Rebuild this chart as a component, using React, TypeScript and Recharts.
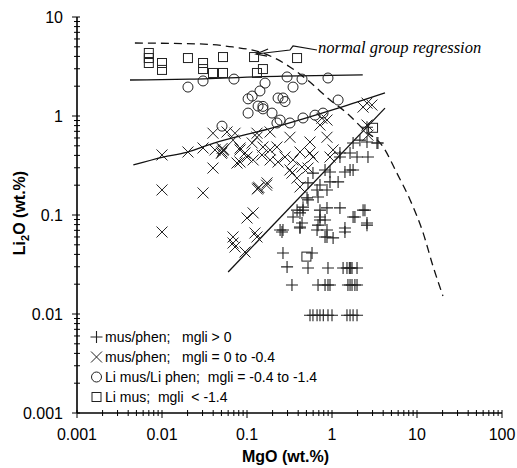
import { ScatterChart, Scatter, XAxis, YAxis, Label } from 'recharts'

type Pt = [number, number]

const xMajor = [0.001, 0.01, 0.1, 1, 10, 100]
const yMajor = [0.001, 0.01, 0.1, 1, 10]
const minorSteps = [2, 3, 4, 5, 6, 7, 8, 9]
const xTicks = xMajor.concat(
  xMajor.slice(0, -1).flatMap((d) => minorSteps.map((s) => +(d * s).toPrecision(3)))
)
const yTicks = yMajor.concat(
  yMajor.slice(0, -1).flatMap((d) => minorSteps.map((s) => +(d * s).toPrecision(3)))
)

// mus/phen; mgli > 0
const plusPts: Pt[] = [
  [2.58, 0.77], [3.47, 0.534], [2.13, 0.57], [1.77, 0.534], [1.63, 0.423], [1.97, 0.385],
  [1.24, 0.385], [1.63, 0.285], [0.828, 0.285], [0.597, 0.265], [0.722, 0.201], [0.522, 0.211],
  [0.947, 0.216], [0.685, 0.152], [0.522, 0.142], [0.456, 0.12], [0.722, 0.112], [0.722, 0.089],
  [2.32, 0.112], [1.77, 0.0955], [0.42, 0.105], [0.265, 0.0706], [0.42, 0.0757], [0.873, 0.0706],
  [0.947, 0.272], [0.667, 0.179], [0.873, 0.179], [1.18, 0.216], [1.42, 0.272], [1.77, 0.285],
  [1.24, 0.423], [2.58, 0.546], [3.38, 0.534], [2.65, 0.385], [0.508, 0.149], [0.388, 0.112],
  [0.456, 0.112], [0.873, 0.118], [0.722, 0.0955], [0.828, 0.089], [0.444, 0.083], [1.24, 0.118],
  [2.44, 0.112], [1.86, 0.0955], [2.58, 0.083], [0.667, 0.0706], [0.245, 0.0706], [0.42, 0.074],
  [0.873, 0.06], [1.03, 0.0587], [1.42, 0.074], [0.348, 0.0955], [0.258, 0.0673], [0.685, 0.079],
  [0.828, 0.06], [1.42, 0.0673], [2.58, 0.079], [0.265, 0.0413], [0.582, 0.0413],
  [0.296, 0.0299], [0.522, 0.0292], [0.897, 0.0292], [1.35, 0.0292], [1.5, 0.0292], [1.6, 0.0292],
  [1.66, 0.0292], [1.72, 0.0292], [1.97, 0.0292],
  [0.338, 0.0196], [0.685, 0.0196], [0.828, 0.0196], [0.897, 0.0196], [0.947, 0.0196],
  [1.54, 0.0196], [1.63, 0.0196], [1.72, 0.0196], [1.86, 0.0196], [1.97, 0.0196],
  [0.551, 0.0097], [0.597, 0.0097], [0.667, 0.0097], [0.722, 0.0097], [0.79, 0.0097],
  [0.897, 0.0097], [1.0, 0.0097], [1.5, 0.0097], [1.63, 0.0097], [1.77, 0.0097], [1.97, 0.0097],
]

// mus/phen; mgli = 0 to -0.4
const crossPts: Pt[] = [
  [0.01, 0.404], [0.0202, 0.433], [0.0304, 0.475], [0.0398, 0.298], [0.01, 0.179], [0.0304, 0.167],
  [0.01, 0.0673], [0.0508, 0.433], [0.0522, 0.45], [0.05, 0.42], [0.053, 0.46], [0.051, 0.47],
  [0.0398, 0.67], [0.0582, 0.69], [0.0723, 0.67], [0.0685, 0.57], [0.0828, 0.475], [0.0947, 0.423],
  [0.0828, 0.343], [0.118, 0.36], [0.115, 0.534], [0.131, 0.61], [0.0763, 0.335], [0.042, 0.454],
  [0.1, 0.0933], [0.0685, 0.06], [0.0723, 0.0475], [0.0685, 0.0521], [0.0947, 0.0423], [0.124, 0.0658],
  [0.0828, 0.454], [0.1, 0.385], [0.15, 0.404], [0.187, 0.454], [0.232, 0.343], [0.32, 0.285],
  [0.388, 0.236], [0.551, 0.423], [0.551, 0.546], [0.873, 0.91], [1.03, 0.454], [2.58, 0.81],
  [0.135, 0.187], [0.138, 0.19], [0.132, 0.183], [0.131, 0.06], [0.42, 0.192], [0.522, 0.298],
  [2.65, 0.64], [2.58, 1.35], [2.32, 1.23], [2.95, 1.29], [0.76, 0.95], [0.722, 0.81],
  [0.42, 0.433], [0.873, 0.61], [0.597, 0.385], [0.947, 0.385], [0.444, 0.305], [0.338, 0.265],
  [0.348, 0.36], [0.28, 0.385], [0.225, 0.486], [0.154, 0.486], [0.187, 0.36], [0.131, 0.67],
  [0.187, 0.69], [0.172, 0.211], [0.17, 0.2], [0.118, 0.105], [0.32, 0.61],
]

// Li mus/Li phen; mgli = -0.4 to -1.4
const ringPts: Pt[] = [
  [0.0202, 1.96], [0.0304, 2.26], [0.0703, 2.36], [0.0508, 0.79], [0.163, 2.15], [0.142, 1.79],
  [0.115, 1.59], [0.103, 1.49], [0.135, 1.26], [0.154, 1.18], [0.197, 1.07], [0.103, 1.07],
  [0.232, 1.52], [0.296, 2.48], [0.444, 2.36], [0.897, 2.42], [0.348, 1.96], [0.265, 1.52],
  [0.28, 1.4], [0.154, 1.25], [0.245, 0.91], [0.32, 0.85], [0.456, 0.955], [0.631, 1.02],
  [0.784, 1.07], [1.18, 1.45], [0.225, 0.85],
]

// Li mus; mgli < -1.4
const boxPts: Pt[] = [
  [0.007, 4.33], [0.007, 3.85], [0.007, 3.43], [0.01, 3.43], [0.01, 2.92], [0.0202, 3.85],
  [0.0304, 3.43], [0.0304, 2.98], [0.0398, 2.72], [0.0522, 2.72], [0.0522, 3.94], [0.121, 3.94],
  [0.131, 2.72], [0.154, 2.98], [0.388, 3.85], [3.04, 0.76], [0.5, 0.038],
]

// regression lines
const ringFit: Pt[] = [[0.0042, 2.31], [0.0214, 2.36], [0.265, 2.53], [2.3, 2.6]]
const crossFit: Pt[] = [[0.0046, 0.32], [0.0103, 0.385], [0.0195, 0.43], [0.04, 0.53], [0.2, 0.76], [1.18, 1.2], [4.2, 1.71]]
const plusFit: Pt[] = [[0.06, 0.0266], [4.2, 1.2]]
const normalFit: Pt[] = [
  [0.0048, 5.46], [0.028, 5.34], [0.068, 4.98], [0.154, 4.33], [0.32, 3.13], [0.55, 2.2],
  [0.95, 1.45], [1.5, 1.07], [2.4, 0.72], [4.0, 0.486], [5.8, 0.265], [8.3, 0.142],
  [11.8, 0.066], [15.5, 0.03], [20.2, 0.0152],
]
const arrowLine: Pt[] = [[0.666, 4.64], [0.348, 5.1], [0.32, 4.64], [0.128, 4.23]]
const arrowHead: Pt[] = [[0.177, 4.75], [0.128, 4.23], [0.172, 4.02]]

const legendLabels = [
  'mus/phen;   mgli > 0',
  'mus/phen;   mgli = 0 to -0.4',
  'Li mus/Li phen;  mgli = -0.4 to -1.4',
  'Li mus;  mgli  < -1.4',
]
const noteText = 'normal group regression'

const rows = (pts: Pt[]) => pts.map(([x, y]) => ({ x, y }))

const ink = '#222'
const sans = "Arial, 'Liberation Sans', Helvetica, sans-serif"

const Plus = ({ cx, cy }: any) => (
  <path d={`M${cx - 6},${cy}H${cx + 6}M${cx},${cy - 6}V${cy + 6}`} stroke={ink} strokeWidth={1.1} fill="none" />
)
const Cross = ({ cx, cy }: any) => (
  <path
    d={`M${cx - 5.5},${cy - 5.5}L${cx + 5.5},${cy + 5.5}M${cx - 5.5},${cy + 5.5}L${cx + 5.5},${cy - 5.5}`}
    stroke={ink}
    strokeWidth={1}
    fill="none"
  />
)
const Ring = ({ cx, cy }: any) => <circle cx={cx} cy={cy} r={5} stroke={ink} strokeWidth={1} fill="none" />
const Box = ({ cx, cy }: any) => (
  <rect x={cx - 4.5} y={cy - 4.5} width={9} height={9} stroke={ink} strokeWidth={1} fill="none" />
)
const NoDot = () => <g />

const legendShapes = [Plus, Cross, Ring, Box]

const XTick = ({ x, y, payload }: any) => {
  const v = payload.value
  const major = xMajor.includes(v)
  return (
    <g>
      <line x1={x} x2={x} y1={y - 3} y2={y + (major ? 5 : 3)} stroke="#000" />
      {major && (
        <text x={x} y={y + 27} textAnchor="middle" fontSize={16} fontFamily={sans} fill="#000">
          {String(v)}
        </text>
      )}
    </g>
  )
}

const YTick = ({ x, y, payload }: any) => {
  const v = payload.value
  const major = yMajor.includes(v)
  return (
    <g>
      <line x1={x - (major ? 5 : 3)} x2={x + 3} y1={y} y2={y} stroke="#000" />
      {major && (
        <text x={x - 14} y={y + 6} textAnchor="end" fontSize={16} fontFamily={sans} fill="#000">
          {String(v)}
        </text>
      )}
    </g>
  )
}

const XTitle = ({ viewBox }: any) => (
  <text
    x={viewBox.x + viewBox.width / 2 - 4}
    y={viewBox.y + 49}
    textAnchor="middle"
    fontSize={16}
    fontWeight="bold"
    fontFamily={sans}
    fill="#000"
  >
    MgO (wt.%)
  </text>
)

const YTitle = ({ viewBox }: any) => {
  const cx = 25
  const cy = viewBox.y + viewBox.height / 2 - 2
  return (
    <text
      x={cx}
      y={cy}
      transform={`rotate(-90, ${cx}, ${cy})`}
      textAnchor="middle"
      fontSize={16}
      fontWeight="bold"
      fontFamily={sans}
      fill="#000"
    >
      Li
      <tspan dy={4} fontSize={11}>2</tspan>
      <tspan dy={-4}>O (wt.%)</tspan>
    </text>
  )
}

export default function App() {
  return (
    <div style={{ position: 'absolute', left: 0, top: 0, width: 517, height: 468, background: '#fff' }}>
      <ScatterChart width={517} height={468} margin={{ top: 17, right: 15, bottom: 25, left: 17 }}>
        <XAxis
          dataKey="x"
          type="number"
          scale="log"
          domain={[0.001, 100]}
          allowDataOverflow
          ticks={xTicks}
          interval={0}
          tickSize={0}
          tickMargin={0}
          tickLine={false}
          tick={<XTick />}
          height={30}
          axisLine={{ stroke: '#000', strokeWidth: 1.6 }}
        >
          <Label content={<XTitle />} />
        </XAxis>
        <XAxis
          xAxisId="top"
          orientation="top"
          type="number"
          scale="log"
          domain={[0.001, 100]}
          allowDataOverflow
          height={0}
          tick={false}
          tickLine={false}
          axisLine={{ stroke: '#000', strokeWidth: 1 }}
        />
        <YAxis
          dataKey="y"
          type="number"
          scale="log"
          domain={[0.001, 10]}
          allowDataOverflow
          ticks={yTicks}
          interval={0}
          tickSize={0}
          tickMargin={0}
          tickLine={false}
          tick={<YTick />}
          width={60}
          axisLine={{ stroke: '#000', strokeWidth: 1.6 }}
        >
          <Label content={<YTitle />} />
        </YAxis>
        <YAxis
          yAxisId="right"
          orientation="right"
          type="number"
          scale="log"
          domain={[0.001, 10]}
          allowDataOverflow
          width={0}
          tick={false}
          tickLine={false}
          axisLine={{ stroke: '#000', strokeWidth: 1.6 }}
        />

        <Scatter data={rows(normalFit)} line={{ stroke: '#111', strokeWidth: 1.3, strokeDasharray: '8 5' }} lineJointType="monotoneX" shape={<NoDot />} isAnimationActive={false} />
        <Scatter data={rows(ringFit)} line={{ stroke: '#111', strokeWidth: 1.3 }} lineJointType="monotoneX" shape={<NoDot />} isAnimationActive={false} />
        <Scatter data={rows(crossFit)} line={{ stroke: '#111', strokeWidth: 1.3 }} lineJointType="monotoneX" shape={<NoDot />} isAnimationActive={false} />
        <Scatter data={rows(plusFit)} line={{ stroke: '#111', strokeWidth: 1.3 }} shape={<NoDot />} isAnimationActive={false} />
        <Scatter data={rows(arrowLine)} line={{ stroke: '#111', strokeWidth: 1.2 }} shape={<NoDot />} isAnimationActive={false} />
        <Scatter data={rows(arrowHead)} line={{ stroke: '#111', strokeWidth: 1.2 }} shape={<NoDot />} isAnimationActive={false} />

        <Scatter data={rows(boxPts)} shape={<Box />} isAnimationActive={false} />
        <Scatter data={rows(ringPts)} shape={<Ring />} isAnimationActive={false} />
        <Scatter data={rows(crossPts)} shape={<Cross />} isAnimationActive={false} />
        <Scatter data={rows(plusPts)} shape={<Plus />} isAnimationActive={false} />
      </ScatterChart>

      <div
        style={{
          position: 'absolute',
          left: 318,
          top: 40,
          fontFamily: "'Liberation Serif', 'Times New Roman', serif",
          fontStyle: 'italic',
          fontSize: 16.5,
          lineHeight: '16.5px',
          whiteSpace: 'nowrap',
        }}
      >
        {noteText}
      </div>

      <div style={{ position: 'absolute', left: 89, top: 327, fontFamily: sans, fontSize: 14 }}>
        {legendLabels.map((label, i) => {
          const Shape = legendShapes[i]
          return (
            <div key={label} style={{ display: 'flex', alignItems: 'center', height: 20, whiteSpace: 'pre' }}>
              <svg width={15} height={14} style={{ marginRight: 1 }}>
                <Shape cx={7.5} cy={7} />
              </svg>
              {label}
            </div>
          )
        })}
      </div>
    </div>
  )
}
